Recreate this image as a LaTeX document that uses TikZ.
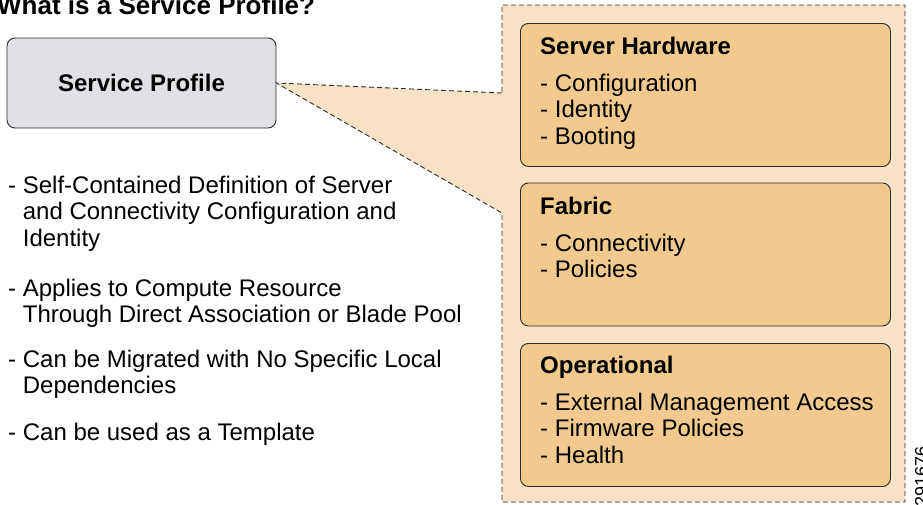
\documentclass[tikz,border=0pt]{standalone}
\usepackage{fontspec}
\setmainfont{Liberation Sans}
\definecolor{spgray}{HTML}{E0E1E5}
\definecolor{calloutfill}{HTML}{F8E2C5}
\definecolor{panelfill}{HTML}{F2CA8E}
\definecolor{edge}{HTML}{2B2B2B}
\begin{document}
\begin{tikzpicture}[x=1pt,y=-1pt]
\tikzset{
  % multi-line text; the base anchor sits on the last line's baseline
  body/.style={font=\fontsize{24}{26.7}\selectfont, align=left, inner sep=0pt, anchor=base west},
  panel/.style={draw=edge, line width=0.9pt, rounded corners=8pt, fill=panelfill,
                minimum width=370pt, minimum height=143pt, inner sep=0pt, anchor=north west},
  callout/.style={draw=edge, dash pattern=on 5pt off 3pt, line width=0.9pt, fill=calloutfill},
}
\useasboundingbox (0,0) rectangle (923,504);

% heading
\node[anchor=base west, inner sep=0pt, font=\bfseries\fontsize{26}{30}\selectfont] (title) at (-3,14) {What is a Service Profile?};

% the profile object
\node[draw=edge, line width=0.9pt, fill=spgray, rounded corners=8pt, minimum width=269pt,
      minimum height=90pt, inner sep=0pt, font=\bfseries\fontsize{24}{26.7}\selectfont]
      (sp) at (141.5,83) {Service Profile};

% dashed call-out expanding the profile
\coordinate (tip) at (sp.east);
\coordinate (c1) at (502,93);
\coordinate (c2) at (502,213);
\coordinate (c3) at (502,502);
\coordinate (c4) at (905,502);
\coordinate (c5) at (905,5);
\coordinate (c6) at (502,5);
\draw[callout] (c1) -- (tip) -- (c2) -- (c3) -- (c4) -- (c5) -- (c6) -- cycle;

% contents of the profile
\node[panel] (hw) at (520,23) {};
\node[body] (hwtext) at ([xshift=20pt,yshift=-121.4pt]hw.north west)
  {\textbf{Server Hardware}\\[10.3pt]- Configuration\\- Identity\\- Booting};

\node[panel] (fab) at (520,182.5) {};
\node[body] (fabtext) at ([xshift=20pt,yshift=-95.2pt]fab.north west)
  {\textbf{Fabric}\\[10.3pt]- Connectivity\\- Policies};

\node[panel] (ops) at (520,343) {};
\node[body] (opstext) at ([xshift=20pt,yshift=-120.5pt]ops.north west)
  {\textbf{Operational}\\[10.3pt]- External Management Access\\- Firmware Policies\\- Health};

% properties of a service profile
\node[body] (b1) at (8,246.4) {- Self-Contained Definition of Server\\\hphantom{- }and Connectivity Configuration and\\\hphantom{- }Identity};
\node[body] (b2) at (8,322.7) {- Applies to Compute Resource\\\hphantom{- }Through Direct Association or Blade Pool};
\node[body] (b3) at (8,393.7) {- Can be Migrated with No Specific Local\\\hphantom{- }Dependencies};
\node[body] (b4) at (8,440) {- Can be used as a Template};

% figure number
\node[rotate=90, anchor=base west, inner sep=0pt, font=\fontsize{18}{18}\selectfont] (fignum) at (927.5,507) {291676};
\end{tikzpicture}
\end{document}
